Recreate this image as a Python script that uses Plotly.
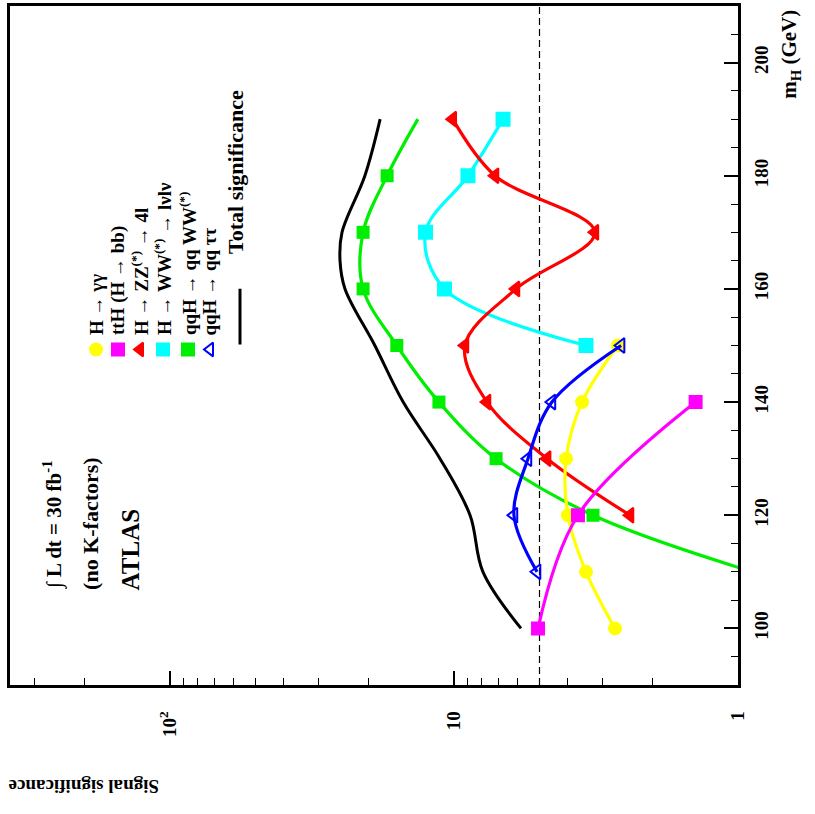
import numpy as np
import plotly.graph_objects as go

# ---------------- data ----------------
MH_GG = [100, 110, 120, 130, 140, 150]
SIG_GG = [2.71, 3.43, 3.97, 4.03, 3.54, 2.65]

MH_TTH = [100, 120, 140]
SIG_TTH = [5.06, 3.66, 1.41]

MH_ZZ = [120, 130, 140, 150, 160, 170, 180, 190]
SIG_ZZ = [2.40, 4.70, 7.65, 9.15, 6.05, 3.19, 7.17, 10.1]

MH_WW = [150, 160, 170, 180, 190]
SIG_WW = [3.43, 10.8, 12.6, 8.93, 6.72]

MH_QQWW_PTS = [120, 130, 140, 150, 160, 170, 180]
SIG_QQWW_PTS = [3.24, 7.11, 11.3, 15.9, 20.9, 20.9, 17.2]
MH_QQWW_LINE = [110, 120, 130, 140, 150, 160, 170, 180, 190]
SIG_QQWW_LINE = [0.89, 3.24, 7.11, 11.3, 15.9, 20.9, 20.9, 17.2, 13.4]

MH_QQTT = [110, 120, 130, 140, 150]
SIG_QQTT = [5.10, 6.15, 5.49, 4.52, 2.58]

MH_TOT = [100, 110, 120, 130, 140, 150, 160, 165, 170, 180, 190]
SIG_TOT = [5.81, 7.91, 8.78, 11.2, 15.1, 19.0, 24.2, 25.2, 24.8, 20.6, 18.2]

DISCOVERY = 5.0

MH_TICKS = [100, 120, 140, 160, 180, 200]
SIG_TICKS = [1, 10, 100]
SIG_TICKTEXT = ["1", "10", "10<sup>2</sup>"]
SIG_MINOR = [2, 3, 4, 5, 6, 7, 8, 9, 20, 30, 40, 50, 60, 70, 80, 90, 200, 300]

LEG_LABELS = ["H → γγ", "ttH (H → bb)", "H → ZZ<sup>(*)</sup> → 4l",
              "H → WW<sup>(*)</sup> → lνlν", "qqH → qq WW<sup>(*)</sup>", "qqH → qq ττ"]
LEG_COLORS = ["#FFFF00", "#FF00FF", "#FF0000", "#00FFFF", "#00EE00", "#0000FF"]
LEG_SYMBOLS = ["circle", "square", "triangle-left", "square", "square", "triangle-left-open"]
TOTAL_LABEL = "Total significance"

# ---------------- layout geometry (pixels) ----------------
W, H = 815, 814
L, R, T, B = 10, 738, 3, 685
def px(x):
    return (x - L) / (R - L)
def py(y):
    return (B - y) / (B - T)

FONT = "Liberation Serif, Times New Roman, serif"
LW = 3.2

fig = go.Figure()

# dashed 5-sigma line
fig.add_trace(go.Scatter(x=[DISCOVERY, DISCOVERY], y=[90, 210], mode="lines",
                         line=dict(color="black", width=1.2, dash="7px,4px"),
                         showlegend=False, hoverinfo="skip"))

def curve(xs, ys, color, symbol=None, size=12, lw=LW, markers=True):
    fig.add_trace(go.Scatter(
        x=xs, y=ys, mode="lines+markers" if markers else "lines",
        line=dict(color=color, width=lw, shape="spline", smoothing=1.0),
        marker=dict(symbol=symbol, size=size, color=color,
                    line=dict(color=color, width=2)) if markers else None,
        showlegend=False, hoverinfo="skip"))

curve(SIG_TOT, MH_TOT, "black", markers=False, lw=3.0)
curve(SIG_QQWW_LINE, MH_QQWW_LINE, "#00EE00", markers=False)
fig.add_trace(go.Scatter(x=SIG_QQWW_PTS, y=MH_QQWW_PTS, mode="markers",
                         marker=dict(symbol="square", size=13, color="#00EE00"),
                         showlegend=False, hoverinfo="skip"))
curve(SIG_WW, MH_WW, "#00FFFF", "square", 13)
curve(SIG_ZZ, MH_ZZ, "#FF0000", "triangle-left", 13)
curve(SIG_GG, MH_GG, "#FFFF00", "circle", 12)
curve(SIG_QQTT, MH_QQTT, "#0000FF", "triangle-left-open", 13)
curve(SIG_TTH, MH_TTH, "#FF00FF", "square", 12)

# ---------------- legend (manual, rotated) ----------------
LEG_X = [96, 118, 140, 163, 188, 210]
LEG_MARK_Y = 348
LEG_TEXT_Y = 336
for lx, lab, col, sym in zip(LEG_X, LEG_LABELS, LEG_COLORS, LEG_SYMBOLS):
    fig.add_trace(go.Scatter(x=[px(lx)], y=[py(LEG_MARK_Y)], xaxis="x2", yaxis="y2",
                             mode="markers",
                             marker=dict(symbol=sym, size=12, color=col,
                                         line=dict(color=col, width=2)),
                             showlegend=False, hoverinfo="skip"))
    fig.add_annotation(x=px(lx), y=py(LEG_TEXT_Y), xref="paper", yref="paper",
                       text="<b>" + lab + "</b>", textangle=-90, showarrow=False,
                       xanchor="center", yanchor="bottom",
                       font=dict(family=FONT, size=19, color="black"))

fig.add_shape(type="line", xref="paper", yref="paper",
              x0=px(240), x1=px(240), y0=py(287), y1=py(343),
              line=dict(color="black", width=3))
fig.add_annotation(x=px(236), y=py(254), xref="paper", yref="paper",
                   text="<b>" + TOTAL_LABEL + "</b>", textangle=-90, showarrow=False,
                   xanchor="center", yanchor="bottom",
                   font=dict(family=FONT, size=22, color="black"))

# ATLAS text block
for lx, txt, fs in [(53, "∫ L dt = 30 fb<sup>-1</sup>", 21),
                    (91, "(no K-factors)", 22),
                    (130, "ATLAS", 25)]:
    fig.add_annotation(x=px(lx), y=py(592), xref="paper", yref="paper",
                       text="<b>" + txt + "</b>", textangle=-90, showarrow=False,
                       xanchor="center", yanchor="bottom",
                       font=dict(family=FONT, size=fs, color="black"))

# axis titles
fig.add_annotation(x=px(790), y=py(52), xref="paper", yref="paper",
                   text="<b>m<sub>H</sub> (GeV)</b>", textangle=-90, showarrow=False,
                   xanchor="center", yanchor="middle",
                   font=dict(family=FONT, size=21, color="black"))
fig.add_annotation(x=px(84), y=py(787), xref="paper", yref="paper",
                   text="<b>Signal significance</b>", textangle=180, showarrow=False,
                   xanchor="center", yanchor="middle",
                   font=dict(family=FONT, size=19, color="black"))

fig.update_layout(
    width=W, height=H,
    margin=dict(l=L, r=W - R, t=T, b=H - B),
    paper_bgcolor="white", plot_bgcolor="white",
    showlegend=False,
    xaxis=dict(type="log", range=[np.log10(366), 0], showgrid=False, zeroline=False,
               showline=True, linecolor="black", linewidth=2.5, mirror=True,
               ticks="inside", ticklen=14, tickwidth=1.5, tickcolor="black",
               tickvals=SIG_TICKS, ticktext=SIG_TICKTEXT, tickangle=-90,
               ticklabelstandoff=16,
               tickfont=dict(family=FONT, size=19, color="black", weight="bold"),
               minor=dict(tickvals=SIG_MINOR, ticks="inside", ticklen=7,
                          tickwidth=1.2, tickcolor="black", showgrid=False)),
    yaxis=dict(range=[90, 210], side="right", showgrid=False, zeroline=False,
               showline=True, linecolor="black", linewidth=2.5, mirror=True,
               ticks="inside", ticklen=14, tickwidth=1.5, tickcolor="black",
               tickvals=MH_TICKS, tickangle=-90, ticklabelstandoff=4,
               tickfont=dict(family=FONT, size=19, color="black", weight="bold"),
               minor=dict(dtick=5, tick0=100, ticks="inside", ticklen=7,
                          tickwidth=1.2, tickcolor="black", showgrid=False)),
    xaxis2=dict(overlaying="x", range=[0, 1], visible=False, fixedrange=True),
    yaxis2=dict(overlaying="y", range=[0, 1], visible=False, fixedrange=True),
)

fig.write_html("out.html")
